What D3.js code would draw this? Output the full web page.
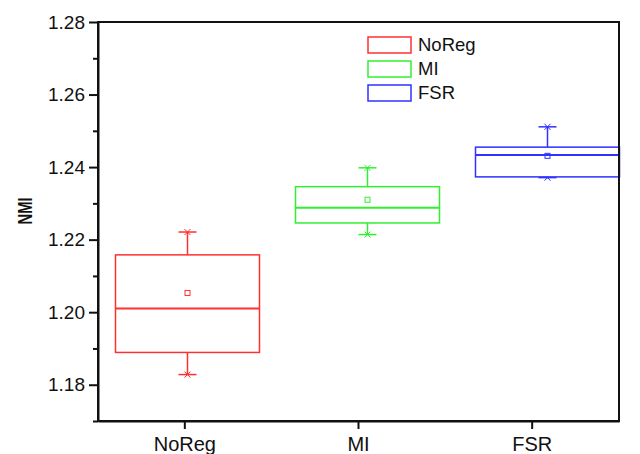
<!DOCTYPE html>
<html>
<head>
<meta charset="utf-8">
<script src="https://cdn.jsdelivr.net/npm/d3@7"></script>
<style>
  body { margin: 0; background: #fff; }
  svg { display: block; font-family: Arial, "Liberation Sans", sans-serif; }
</style>
</head>
<body>
<svg id="chart" width="640" height="454"></svg>
<script>
// box plot of NMI per regularisation method
const categories = ["NoReg", "MI", "FSR"];
const colors = ["#ff3030", "#30f030", "#3030ff"];
const minV = [1.1828, 1.2214, 1.2371];
const q1 = [1.1889, 1.2246, 1.2373];
const median = [1.2010, 1.2288, 1.2433];
const q3 = [1.2158, 1.2346, 1.2455];
const maxV = [1.2221, 1.2398, 1.2511];
const meanV = [1.2053, 1.2310, 1.2431];
const yMajor = [1.18, 1.20, 1.22, 1.24, 1.26, 1.28];
const yMinor = [1.17, 1.19, 1.21, 1.23, 1.25, 1.27];

const plotL = 98, plotR = 619, plotT = 22, plotB = 421;
const svg = d3.select("#chart");

const y = d3.scaleLinear().domain([1.17, 1.28]).range([plotB, plotT]);
const x = d3.scaleBand().domain(categories).range([plotL, plotR]);
// boxes sit on a slightly wider grid than the tick labels in the original
const boxX = d3.scaleBand().domain(categories).range([97.5, 637.5]);
const boxW = boxX.bandwidth() * 0.8;
const capW = 18;

const data = categories.map((c, i) => ({
  cat: c, color: colors[i], min: minV[i], q1: q1[i], med: median[i],
  q3: q3[i], max: maxV[i], mean: meanV[i]
}));

const g = svg.append("g");
data.forEach(d => {
  const cx = boxX(d.cat) + boxX.bandwidth() / 2;
  const gg = g.append("g").attr("stroke", d.color).attr("fill", "none").attr("stroke-width", 1.5);
  // whiskers
  gg.append("line").attr("x1", cx).attr("x2", cx).attr("y1", y(d.q3)).attr("y2", y(d.max));
  gg.append("line").attr("x1", cx).attr("x2", cx).attr("y1", y(d.q1)).attr("y2", y(d.min));
  [d.max, d.min].forEach(v => {
    gg.append("line").attr("x1", cx - capW / 2).attr("x2", cx + capW / 2).attr("y1", y(v)).attr("y2", y(v));
    // x marker at extremes
    gg.append("path")
      .attr("d", `M${cx - 3},${y(v) - 3}L${cx + 3},${y(v) + 3}M${cx - 3},${y(v) + 3}L${cx + 3},${y(v) - 3}`)
      .attr("stroke-width", 1);
  });
  gg.append("rect")
    .attr("x", cx - boxW / 2).attr("width", boxW)
    .attr("y", y(d.q3)).attr("height", y(d.q1) - y(d.q3))
    .attr("fill", "white");
  gg.append("line").attr("x1", cx - boxW / 2).attr("x2", cx + boxW / 2)
    .attr("y1", y(d.med)).attr("y2", y(d.med)).attr("stroke-width", 2);
  gg.append("rect")
    .attr("x", cx - 2.5).attr("y", y(d.mean) - 2.5)
    .attr("width", 5).attr("height", 5).attr("stroke-width", 1);
});

// frame
svg.append("rect")
  .attr("x", plotL).attr("y", plotT)
  .attr("width", plotR - plotL).attr("height", plotB - plotT)
  .attr("fill", "none").attr("stroke", "#111").attr("stroke-width", 2);

// y axis
const yAxis = svg.append("g").attr("transform", `translate(${plotL},0)`)
  .call(d3.axisLeft(y).tickValues(yMajor).tickFormat(d3.format(".2f"))
    .tickSize(9).tickSizeOuter(0).tickPadding(4));
svg.append("g").attr("transform", `translate(${plotL},0)`)
  .call(d3.axisLeft(y).tickValues(yMinor).tickFormat("").tickSize(5).tickSizeOuter(0))
  .call(a => a.select(".domain").remove());

// x axis
const xAxis = svg.append("g").attr("transform", `translate(0,${plotB})`)
  .call(d3.axisBottom(x).tickSize(8).tickSizeOuter(0).tickPadding(8));

svg.selectAll(".tick line").attr("stroke", "#111").attr("stroke-width", 2);
svg.selectAll(".domain").attr("stroke", "#111").attr("stroke-width", 2);
yAxis.selectAll("text").attr("font-size", 19).attr("fill", "#111").attr("font-family", null);
xAxis.selectAll("text").attr("font-size", 20).attr("fill", "#111").attr("font-family", null);

svg.append("text")
  .attr("transform", `translate(32,211) rotate(-90)`)
  .attr("text-anchor", "middle")
  .attr("font-size", 20).attr("font-weight", "bold")
  .attr("textLength", 27).attr("lengthAdjust", "spacingAndGlyphs")
  .attr("fill", "#111")
  .text("NMI");

// legend
const legend = svg.append("g").attr("transform", "translate(368,37)");
data.forEach((d, i) => {
  const row = legend.append("g").attr("transform", `translate(0,${i * 24})`);
  row.append("rect").attr("width", 43).attr("height", 16)
    .attr("fill", "white").attr("stroke", d.color).attr("stroke-width", 1.5);
  row.append("text").attr("x", 50).attr("y", 8).attr("dy", "0.35em")
    .attr("font-size", 18.5).attr("fill", "#111").text(d.cat);
});
</script>
</body>
</html>
